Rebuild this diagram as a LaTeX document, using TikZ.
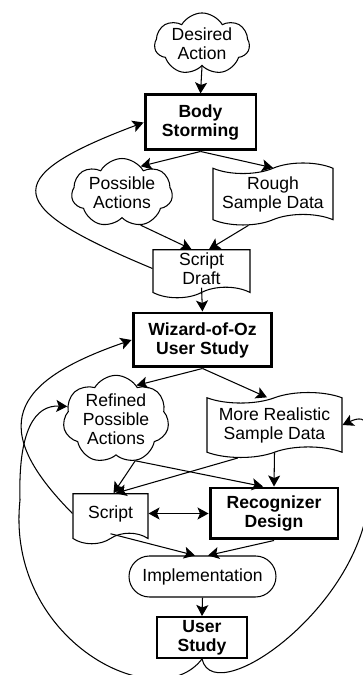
\documentclass[tikz,border=0pt]{standalone}
\usepackage{fontspec}
\setmainfont{Liberation Sans}
\usetikzlibrary{shapes.symbols,arrows.meta}

\begin{document}
\begin{tikzpicture}[x=0.02cm,y=0.02cm,line width=0.6pt,
    >={Stealth[length=2.2mm,width=2.4mm,inset=0.5mm]},
    every node/.style={font=\fontsize{10}{10.8}\selectfont,align=center,inner sep=0pt},
    idea/.style={draw,cloud,cloud puffs=7,cloud puff arc=120,cloud ignores aspect},
    task/.style={draw,rectangle,line width=1.7pt,font=\fontsize{10}{10.8}\selectfont\bfseries},
    datasheet/.style={draw,tape,tape bend height=6pt},
    docsheet/.style={draw,tape,tape bend top=none,tape bend height=6pt}]
  \useasboundingbox (0,0) rectangle (362,675);

  \node[idea,minimum width=1.9cm,minimum height=1.16cm] (D) at (202,631) {Desired\\Action};
  \node[task,minimum width=2.22cm,minimum height=1.1cm] (BS) at (200.5,552.5) {Body\\Storming};
  \node[idea,minimum width=2.02cm,minimum height=1.38cm] (PA) at (122,482) {Possible\\Actions};
  \node[datasheet,minimum width=2.4cm,minimum height=1.24cm] (RS) at (273,481) {Rough\\Sample Data};
  \node[docsheet,minimum width=1.94cm,minimum height=0.96cm] (SD) at (201.5,406.5) {Script\\Draft};
  \node[task,minimum width=2.78cm,minimum height=1.08cm] (WZ) at (202.5,335) {Wizard-of-Oz\\User Study};
  \node[idea,minimum width=2.12cm,minimum height=1.7cm] (RP) at (116,255.5) {Refined\\Possible\\Actions};
  \node[datasheet,minimum width=2.7cm,minimum height=1.3cm] (MR) at (274.5,250) {More Realistic\\Sample Data};
  \node[docsheet,minimum width=1.5cm,minimum height=1cm] (SC) at (110.5,161.5) {Script};
  \node[task,minimum width=2.56cm,minimum height=1.02cm] (RD) at (274,161.5) {Recognizer\\Design};
  \node[draw,rounded corners=0.41cm,minimum width=2.94cm,minimum height=0.82cm] (IM) at (202.5,98.5) {Implementation};
  \node[task,line width=1.1pt,minimum width=1.8cm,minimum height=0.82cm] (US) at (202,37.5) {User\\Study};

  \draw[->] (D.south) -- (BS.north);
  \draw[->] (BS.south) -- (PA.55);
  \draw[->] (BS.south) -- (RS.north);
  \draw[->] (PA.300) -- ([xshift=-2mm]SD.north);
  \draw[->] (RS.232) -- ([xshift=1.5mm]SD.north);
  \draw[->] (SD.west) .. controls (7,467) and (-7,496) .. (BS.west);
  \draw[->] (SD.south) -- (WZ.north);
  \draw[->] (WZ.south) -- (RP.59);
  \draw[->] (WZ.south) -- ([xshift=-1.5mm]MR.north);
  \draw[->] (RP.295) -- ([xshift=0.6mm]SC.north);
  \draw[->] (MR.222) -- ([xshift=1mm]SC.north);
  \draw[->] (RP.295) -- ([xshift=-2.2mm]RD.north);
  \draw[->] (MR.south) -- (RD.north);
  \draw[<->] (SC.east) -- (RD.west);
  \draw[->] (SC.south) -- ([xshift=-1.5mm]IM.north);
  \draw[->] (RD.south) -- ([xshift=1.1mm]IM.north);
  \draw[->] (IM.south) -- (US.north);
  \draw[->] (SC.west) .. controls (-12,247) and (9.5,293) .. (WZ.west);
  \draw[->] (US.south) .. controls (157,-43) and (5,35) .. (20,175)
    .. controls (18,245) and (35,270) .. (RP.165);
  \draw[->] (US.south) .. controls (215,-40) and (385,85) .. (368,205)
    .. controls (375,250) and (368,262) .. (MR.east);
\end{tikzpicture}
\end{document}
